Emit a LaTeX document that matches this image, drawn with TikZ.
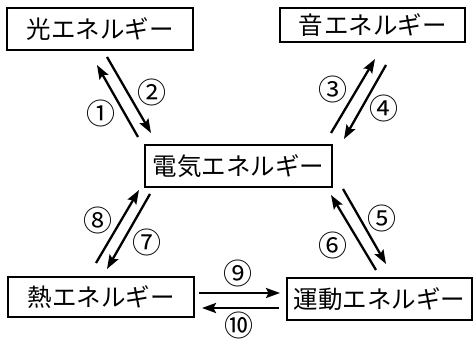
\documentclass[tikz,border=0pt]{standalone}
\usepackage{fontspec}
\setmainfont{Noto Sans CJK JP}
\usetikzlibrary{arrows.meta}
\tikzset{
  ebox/.style={draw=black, line width=1.8pt, inner sep=0pt, font=\fontsize{24.5}{27}\selectfont, text=black},
  arr/.style={line width=2.3pt, -{Stealth[length=14pt,width=10pt,inset=2.5pt]}},
  num/.style={inner sep=0pt, font=\fontsize{29}{31}\selectfont}
}
\begin{document}
\begin{tikzpicture}[x=1pt,y=-1pt]
\useasboundingbox (0,0) rectangle (473,340);
\node[ebox, minimum width=186pt, minimum height=42pt] (light) at (100,29) {光エネルギー};
\node[ebox, minimum width=185pt, minimum height=34pt] (sound) at (372.5,25) {音\hspace{2pt}エネルギー};
\node[ebox, minimum width=187pt, minimum height=42pt] (elec) at (238.5,166) {電気エネルギー};
\node[ebox, minimum width=186pt, minimum height=40pt] (heat) at (101,297) {熱エネルギー};
\node[ebox, minimum width=185pt, minimum height=42pt] (motion) at (379.5,299) {運動エネルギー};

\coordinate (a1s) at (138,137); \coordinate (a1e) at (97,65);
\coordinate (a2s) at (107,57);  \coordinate (a2e) at (151,133);
\coordinate (a3s) at (331,133); \coordinate (a3e) at (375,59);
\coordinate (a4s) at (386,65);  \coordinate (a4e) at (344,139);
\coordinate (a5s) at (343,189); \coordinate (a5e) at (386,264);
\coordinate (a6s) at (376,270); \coordinate (a6e) at (331,195);
\coordinate (a7s) at (150,194); \coordinate (a7e) at (107,269);
\coordinate (a8s) at (96,263);  \coordinate (a8e) at (139,190);
\coordinate (a9s) at (199,293); \coordinate (a9e) at (280,293);
\coordinate (a10s) at (279,308); \coordinate (a10e) at (202,308);

\draw[arr] (a1s) -- (a1e);
\draw[arr] (a2s) -- (a2e);
\draw[arr] (a3s) -- (a3e);
\draw[arr] (a4s) -- (a4e);
\draw[arr] (a5s) -- (a5e);
\draw[arr] (a6s) -- (a6e);
\draw[arr] (a7s) -- (a7e);
\draw[arr] (a8s) -- (a8e);
\draw[arr] (a9s) -- (a9e);
\draw[arr] (a10s) -- (a10e);

\node[num] (n1) at (101,113) {①};
\node[num] (n2) at (152,92) {②};
\node[num] (n3) at (333,89) {③};
\node[num] (n4) at (384,108) {④};
\node[num] (n5) at (382,218) {⑤};
\node[num] (n6) at (333,245) {⑥};
\node[num] (n7) at (147,242) {⑦};
\node[num] (n8) at (98,220) {⑧};
\node[num] (n9) at (238,273) {⑨};
\node[num] (n10) at (239,325) {⑩};
\end{tikzpicture}
\end{document}
